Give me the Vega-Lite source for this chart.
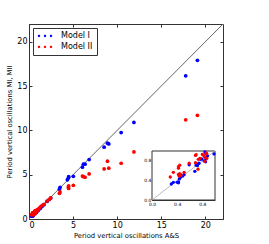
{
  "$schema": "https://vega.github.io/schema/vega-lite/v6.json",
  "width": 194,
  "height": 195,
  "autosize": "none",
  "padding": {"left": 29, "top": 24, "right": 46, "bottom": 25},
  "datasets": {
    "pts": [
      {"x": 19.1, "y": 17.9, "m": "Model I"},
      {"x": 17.77, "y": 16.16, "m": "Model I"},
      {"x": 11.9, "y": 10.9, "m": "Model I"},
      {"x": 10.45, "y": 9.75, "m": "Model I"},
      {"x": 9.05, "y": 8.47, "m": "Model I"},
      {"x": 8.9, "y": 8.55, "m": "Model I"},
      {"x": 8.52, "y": 8.1, "m": "Model I"},
      {"x": 6.82, "y": 6.7, "m": "Model I"},
      {"x": 6.36, "y": 6.18, "m": "Model I"},
      {"x": 6.17, "y": 6.18, "m": "Model I"},
      {"x": 6.06, "y": 5.84, "m": "Model I"},
      {"x": 5.03, "y": 4.82, "m": "Model I"},
      {"x": 4.5, "y": 4.78, "m": "Model I"},
      {"x": 4.45, "y": 4.6, "m": "Model I"},
      {"x": 4.35, "y": 4.42, "m": "Model I"},
      {"x": 3.52, "y": 3.58, "m": "Model I"},
      {"x": 3.45, "y": 3.36, "m": "Model I"},
      {"x": 2.46, "y": 2.36, "m": "Model I"},
      {"x": 2.3, "y": 2.2, "m": "Model I"},
      {"x": 2.05, "y": 1.98, "m": "Model I"},
      {"x": 1.7, "y": 1.62, "m": "Model I"},
      {"x": 1.5, "y": 1.45, "m": "Model I"},
      {"x": 1.3, "y": 1.22, "m": "Model I"},
      {"x": 1.15, "y": 1.1, "m": "Model I"},
      {"x": 1.02, "y": 0.97, "m": "Model I"},
      {"x": 0.307, "y": 0.327, "m": "Model I"},
      {"x": 0.339, "y": 0.36, "m": "Model I"},
      {"x": 0.4, "y": 0.36, "m": "Model I"},
      {"x": 0.42, "y": 0.37, "m": "Model I"},
      {"x": 0.42, "y": 0.35, "m": "Model I"},
      {"x": 0.434, "y": 0.43, "m": "Model I"},
      {"x": 0.45, "y": 0.46, "m": "Model I"},
      {"x": 0.487, "y": 0.49, "m": "Model I"},
      {"x": 0.508, "y": 0.517, "m": "Model I"},
      {"x": 0.59, "y": 0.72, "m": "Model I"},
      {"x": 0.68, "y": 0.585, "m": "Model I"},
      {"x": 0.7, "y": 0.71, "m": "Model I"},
      {"x": 0.725, "y": 0.73, "m": "Model I"},
      {"x": 0.746, "y": 0.75, "m": "Model I"},
      {"x": 0.77, "y": 0.83, "m": "Model I"},
      {"x": 0.79, "y": 0.84, "m": "Model I"},
      {"x": 0.825, "y": 0.8, "m": "Model I"},
      {"x": 0.857, "y": 0.84, "m": "Model I"},
      {"x": 0.857, "y": 0.95, "m": "Model I"},
      {"x": 0.84, "y": 0.98, "m": "Model I"},
      {"x": 0.984, "y": 0.94, "m": "Model I"},
      {"x": 0.88, "y": 0.9, "m": "Model I"},
      {"x": 0.72, "y": 0.7, "m": "Model I"},
      {"x": 0.85, "y": 0.78, "m": "Model I"},
      {"x": 19.1, "y": 11.7, "m": "Model II"},
      {"x": 17.77, "y": 11.19, "m": "Model II"},
      {"x": 11.9, "y": 7.57, "m": "Model II"},
      {"x": 10.45, "y": 6.29, "m": "Model II"},
      {"x": 8.9, "y": 6.52, "m": "Model II"},
      {"x": 9.05, "y": 5.73, "m": "Model II"},
      {"x": 8.52, "y": 5.65, "m": "Model II"},
      {"x": 6.82, "y": 5.08, "m": "Model II"},
      {"x": 6.36, "y": 4.71, "m": "Model II"},
      {"x": 6.17, "y": 4.78, "m": "Model II"},
      {"x": 6.06, "y": 4.84, "m": "Model II"},
      {"x": 5.03, "y": 3.8, "m": "Model II"},
      {"x": 4.5, "y": 3.73, "m": "Model II"},
      {"x": 4.45, "y": 3.6, "m": "Model II"},
      {"x": 4.5, "y": 3.45, "m": "Model II"},
      {"x": 3.52, "y": 3.05, "m": "Model II"},
      {"x": 3.45, "y": 2.9, "m": "Model II"},
      {"x": 2.46, "y": 2.38, "m": "Model II"},
      {"x": 2.3, "y": 2.22, "m": "Model II"},
      {"x": 2.05, "y": 2.02, "m": "Model II"},
      {"x": 1.7, "y": 1.66, "m": "Model II"},
      {"x": 1.5, "y": 1.55, "m": "Model II"},
      {"x": 1.3, "y": 1.38, "m": "Model II"},
      {"x": 1.15, "y": 1.2, "m": "Model II"},
      {"x": 1.02, "y": 1.08, "m": "Model II"},
      {"x": 0.29, "y": 0.47, "m": "Model II"},
      {"x": 0.339, "y": 0.565, "m": "Model II"},
      {"x": 0.42, "y": 0.65, "m": "Model II"},
      {"x": 0.44, "y": 0.71, "m": "Model II"},
      {"x": 0.42, "y": 0.68, "m": "Model II"},
      {"x": 0.42, "y": 0.52, "m": "Model II"},
      {"x": 0.44, "y": 0.54, "m": "Model II"},
      {"x": 0.43, "y": 0.49, "m": "Model II"},
      {"x": 0.46, "y": 0.51, "m": "Model II"},
      {"x": 0.45, "y": 0.5, "m": "Model II"},
      {"x": 0.51, "y": 0.565, "m": "Model II"},
      {"x": 0.59, "y": 0.75, "m": "Model II"},
      {"x": 0.69, "y": 0.91, "m": "Model II"},
      {"x": 0.7, "y": 0.925, "m": "Model II"},
      {"x": 0.69, "y": 0.76, "m": "Model II"},
      {"x": 0.73, "y": 0.63, "m": "Model II"},
      {"x": 0.735, "y": 0.83, "m": "Model II"},
      {"x": 0.76, "y": 0.85, "m": "Model II"},
      {"x": 0.8, "y": 0.93, "m": "Model II"},
      {"x": 0.825, "y": 0.905, "m": "Model II"},
      {"x": 0.84, "y": 0.87, "m": "Model II"},
      {"x": 0.87, "y": 0.94, "m": "Model II"},
      {"x": 0.84, "y": 0.79, "m": "Model II"},
      {"x": 0.87, "y": 0.85, "m": "Model II"},
      {"x": 0.86, "y": 0.96, "m": "Model II"}
    ],
    "diagMain": [{"x": 0, "y": 0}, {"x": 22, "y": 22}],
    "diagInset": [{"x": 0, "y": 0}, {"x": 1, "y": 1}],
    "frame": [{"x": 0, "x2": 1, "y": 0, "y2": 1}]
  },
  "layer": [
    {
      "layer": [
        {
          "data": {"name": "diagMain"},
          "mark": {"type": "line", "color": "#666666", "strokeWidth": 1},
          "encoding": {
            "x": {"field": "x", "type": "quantitative", "scale": {"domain": [0, 22], "nice": false},
              "axis": {"orient": "bottom", "values": [0, 5, 10, 15, 20], "title": "Period vertical oscillations A&S", "tickSize": -3, "labelPadding": 5, "titlePadding": 3}},
            "y": {"field": "y", "type": "quantitative", "scale": {"domain": [0, 22], "nice": false},
              "axis": {"orient": "left", "values": [0, 5, 10, 15, 20], "title": "Period vertical oscillations MI, MII", "tickSize": -3, "labelPadding": 5, "titlePadding": 4}}
          }
        },
        {
          "data": {"name": "pts"},
          "mark": {"type": "point", "filled": true, "opacity": 1, "size": 14},
          "encoding": {
            "x": {"field": "x", "type": "quantitative",
              "axis": {"orient": "top", "values": [0, 5, 10, 15, 20], "labels": false, "title": null, "tickSize": -3, "domain": false}},
            "y": {"field": "y", "type": "quantitative",
              "axis": {"orient": "right", "values": [0, 5, 10, 15, 20], "labels": false, "title": null, "tickSize": -3, "domain": false}},
            "color": {"field": "m", "type": "nominal",
              "scale": {"domain": ["Model I", "Model II"], "range": ["#0000ff", "#ff0000"]},
              "legend": {"title": null}}
          }
        }
      ],
      "resolve": {"axis": {"x": "independent", "y": "independent"}}
    },
    {
      "layer": [
        {
          "data": {"name": "frame"},
          "mark": {"type": "rect", "fill": "white", "stroke": "#333333", "strokeWidth": 1},
          "encoding": {
            "x": {"field": "x", "type": "quantitative", "scale": {"domain": [0, 1], "range": [123, 186], "nice": false},
              "axis": {"orient": "bottom", "offset": -19, "values": [0, 0.2, 0.4, 0.6, 0.8, 1], "format": ".1f", "title": null, "tickSize": -2, "labelFontSize": 4.5, "labelPadding": 3.5, "labelOverlap": false, "labelBound": false, "labelFlush": false}},
            "x2": {"field": "x2"},
            "y": {"field": "y", "type": "quantitative", "scale": {"domain": [0, 1], "range": [176, 127], "nice": false},
              "axis": {"orient": "left", "offset": -123, "values": [0, 0.2, 0.4, 0.6, 0.8, 1], "format": ".1f", "title": null, "tickSize": -2, "labelFontSize": 4.5, "labelPadding": 3, "labelOverlap": false, "labelBound": false, "labelFlush": false}},
            "y2": {"field": "y2"}
          }
        },
        {
          "data": {"name": "diagInset"},
          "mark": {"type": "line", "color": "#aaaaaa", "strokeWidth": 0.8},
          "encoding": {
            "x": {"field": "x", "type": "quantitative"},
            "y": {"field": "y", "type": "quantitative"}
          }
        },
        {
          "data": {"name": "pts"},
          "transform": [{"filter": "datum.x <= 1 && datum.y <= 1"}],
          "mark": {"type": "point", "filled": true, "opacity": 1, "size": 11},
          "encoding": {
            "x": {"field": "x", "type": "quantitative"},
            "y": {"field": "y", "type": "quantitative"},
            "color": {"field": "m", "type": "nominal"}
          }
        }
      ]
    }
  ],
  "resolve": {"scale": {"x": "independent", "y": "independent"}, "axis": {"x": "independent", "y": "independent"}},
  "config": {
    "font": "DejaVu Sans",
    "view": {"stroke": "#333333", "strokeWidth": 1},
    "axis": {"grid": false, "domainColor": "#333333", "tickColor": "#333333", "labelColor": "#000000", "titleColor": "#000000", "labelFontSize": 8, "titleFontSize": 6.8, "titleFontWeight": "normal", "labelFont": "DejaVu Sans", "titleFont": "DejaVu Sans"},
    "legend": {
      "orient": "top-left", "offset": 4, "padding": 4, "strokeColor": "#333333", "fillColor": "white",
      "symbolType": "M -2.4,0 A 0.4,0.4 0 1,1 -1.6,0 A 0.4,0.4 0 1,1 -2.4,0 Z M -0.4,0 A 0.4,0.4 0 1,1 0.4,0 A 0.4,0.4 0 1,1 -0.4,0 Z M 1.6,0 A 0.4,0.4 0 1,1 2.4,0 A 0.4,0.4 0 1,1 1.6,0 Z",
      "symbolSize": 36, "symbolStrokeWidth": 0, "symbolOffset": 4, "labelOffset": 12,
      "labelFontSize": 8, "labelFont": "DejaVu Sans", "labelColor": "#000000", "rowPadding": 3
    }
  }
}
